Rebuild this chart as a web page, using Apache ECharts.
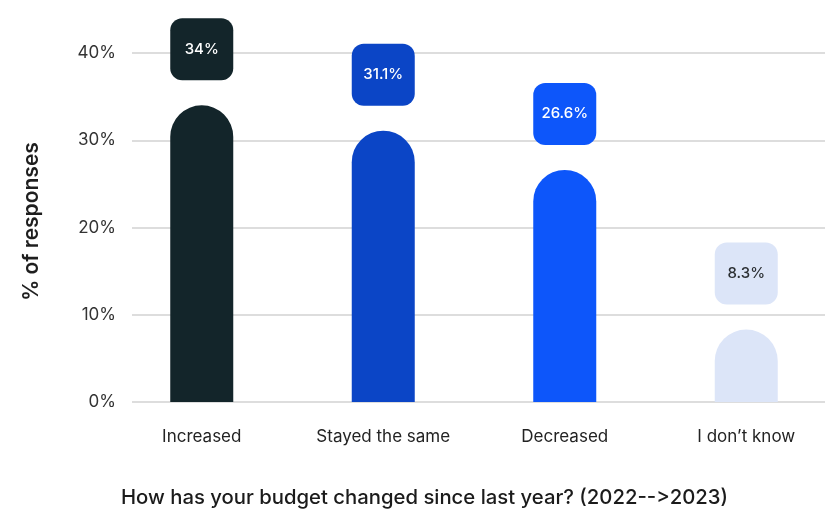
<!DOCTYPE html>
<html>
<head>
<meta charset="utf-8">
<title>Budget change 2022–2023</title>
<script src="https://cdn.jsdelivr.net/npm/echarts@6/dist/echarts.min.js"></script>
<style>
  html, body { margin: 0; padding: 0; background: #ffffff; }
  #chart { width: 825px; height: 510px; }
</style>
</head>
<body>
<div id="chart"></div>
<script>
// Survey answers and their shares (%)
const categories = ['Increased', 'Stayed the same', 'Decreased', 'I don\u2019t know'];
const shares = [34, 31.1, 26.6, 8.3];
const shareLabels = ['34%', '31.1%', '26.6%', '8.3%'];
const yTicks = [0, 10, 20, 30, 40];

// One colour per answer, shared by the bar and its value badge
const barColors = ['#13252a', '#0b45c6', '#0d56fa', '#dce5f8'];
const labelColors = ['#ffffff', '#ffffff', '#ffffff', '#2b2f33'];

const FONT = 'Inter, "Noto Sans", sans-serif';

// A zero-width non-joiner keeps "-->" from being merged into an arrow glyph
const xTitle = 'How has your budget changed since last year? (2022--\u200C>2023)';

const chart = echarts.init(document.getElementById('chart'), null, { renderer: 'canvas' });

const plotTop = 53;
const plotHeight = 349;

chart.setOption({
  animation: false,
  backgroundColor: '#ffffff',
  textStyle: { fontFamily: FONT },
  title: {
    text: xTitle,
    left: 116,
    top: 483,
    textStyle: { fontFamily: FONT, fontSize: 20.3, fontWeight: 500, color: '#1b1b1b' }
  },
  grid: [
    // grid for the value scale and its gridlines
    { left: 132, right: 0, top: plotTop, height: plotHeight, outerBoundsMode: 'none' },
    // grid for the bars
    { left: 111, width: 726, top: plotTop, height: plotHeight, outerBoundsMode: 'none' }
  ],
  xAxis: [
    { type: 'category', gridIndex: 0, data: categories, show: false },
    {
      type: 'category', gridIndex: 1, data: categories,
      axisLine: { show: false }, axisTick: { show: false },
      axisLabel: { margin: 26, fontSize: 17, color: '#232323', fontFamily: FONT }
    }
  ],
  yAxis: [
    {
      type: 'value', gridIndex: 0, min: yTicks[0], max: yTicks[yTicks.length - 1], interval: 10,
      name: '% of responses', nameLocation: 'middle', nameGap: 90, nameRotate: 90,
      nameTextStyle: { fontSize: 21, fontWeight: 600, color: '#1e1e1e', fontFamily: FONT, padding: [0, 0, 0, 12] },
      axisLine: { show: false }, axisTick: { show: false },
      axisLabel: { margin: 16, fontSize: 17, color: '#333333', fontFamily: FONT, formatter: v => v + '%' },
      splitLine: { show: true, lineStyle: { color: '#d2d2d2', width: 1.5 } }
    },
    {
      type: 'value', gridIndex: 1, min: yTicks[0], max: yTicks[yTicks.length - 1], interval: 10,
      show: false, splitLine: { show: false }
    }
  ],
  series: [{
    type: 'bar',
    xAxisIndex: 1,
    yAxisIndex: 1,
    barWidth: 63,
    data: shares.map((v, i) => ({
      value: v,
      itemStyle: { color: barColors[i], borderRadius: [32, 32, 0, 0] },
      label: {
        show: true,
        position: 'top',
        distance: 25,
        formatter: shareLabels[i],
        width: 63,
        height: 62,
        lineHeight: 62,
        align: 'center',
        verticalAlign: 'bottom',
        backgroundColor: barColors[i],
        borderRadius: 12,
        color: labelColors[i],
        fontSize: 15,
        fontWeight: 500,
        fontFamily: FONT
      }
    }))
  }]
});
</script>
</body>
</html>
